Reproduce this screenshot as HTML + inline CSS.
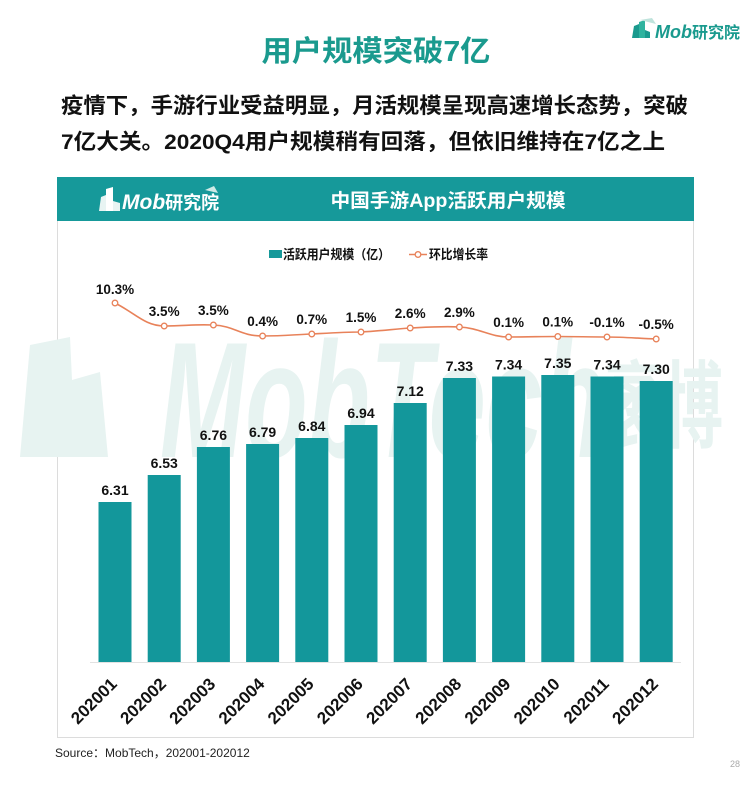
<!DOCTYPE html>
<html><head><meta charset="utf-8"><style>
html,body{margin:0;padding:0;background:#fff;}
svg{display:block;}
text{font-family:"Liberation Sans","Noto Sans CJK SC",sans-serif;}
</style></head><body>
<svg width="750" height="789" viewBox="0 0 750 789" xmlns="http://www.w3.org/2000/svg">
<rect width="750" height="789" fill="#fff"/>

<!-- top-right logo -->
<g>
  <polygon points="632,38 634,26 639,24 639,38" fill="#1a9a8e"/>
  <polygon points="639,38 639,22 645,20 645,38" fill="#2fb39f"/>
  <polygon points="645,38 645,30 650,32 650,38" fill="#1a9a8e"/>
  <polygon points="640,20 652,18 656,24" fill="#bfe3dc"/>
  <text x="655" y="38" font-size="18" font-weight="700" fill="#1a9a8e"><tspan font-style="italic">Mob</tspan><tspan font-size="16">研究院</tspan></text>
</g>

<!-- Title -->
<text x="376" y="61" text-anchor="middle" font-size="29" font-weight="700" fill="#1a9a8e" textLength="229" lengthAdjust="spacingAndGlyphs">用户规模突破7亿</text>

<!-- subtitle -->
<text x="61" y="113" font-size="21.5" font-weight="700" fill="#111" textLength="627" lengthAdjust="spacingAndGlyphs">疫情下，手游行业受益明显，月活规模呈现高速增长态势，突破</text>
<text x="61" y="149" font-size="21.5" font-weight="700" fill="#111" textLength="604" lengthAdjust="spacingAndGlyphs">7亿大关。2020Q4用户规模稍有回落，但依旧维持在7亿之上</text>

<!-- chart frame -->
<rect x="57.5" y="177.5" width="636" height="560" fill="#fff" stroke="#dcdcdc" stroke-width="1"/>
<rect x="57" y="177" width="637" height="44" fill="#16999a"/>

<!-- header logo -->
<g>
  <polygon points="99,211 101,197 106,195 106,211" fill="#e8f4f3"/>
  <polygon points="106,211 106,189 113,187 113,211" fill="#ffffff"/>
  <polygon points="113,211 113,201 120,203 120,211" fill="#e8f4f3"/>
  <polygon points="205,190 214,186 218,193" fill="#cfeae6"/>
  <text x="122" y="209" font-size="21" font-weight="700" fill="#fff"><tspan font-style="italic">Mob</tspan><tspan font-size="18">研究院</tspan></text>
</g>
<text x="448" y="207" text-anchor="middle" font-size="19" font-weight="700" fill="#fff" textLength="235" lengthAdjust="spacingAndGlyphs">中国手游App活跃用户规模</text>

<!-- watermark -->
<g fill="#e7f3f1">
  <polygon points="20,457 30,345 70,337 72,380 100,372 108,457"/>
  <text x="160" y="457" font-size="165" font-style="italic" font-weight="700" textLength="445" lengthAdjust="spacingAndGlyphs">MobTech</text>
  <text x="605" y="440" font-size="95" font-weight="700" textLength="118" lengthAdjust="spacingAndGlyphs">袤博</text>
</g>

<!-- legend -->
<rect x="269" y="250" width="13" height="8" fill="#16999a"/>
<text x="283" y="259" font-size="13" font-weight="700" fill="#111" textLength="107" lengthAdjust="spacingAndGlyphs">活跃用户规模（亿）</text>
<line x1="409" y1="254.5" x2="427" y2="254.5" stroke="#e8825a" stroke-width="1.5"/>
<circle cx="418" cy="254.5" r="2.8" fill="#fff" stroke="#e8825a" stroke-width="1.3"/>
<text x="429" y="259" font-size="13" font-weight="700" fill="#111" textLength="59" lengthAdjust="spacingAndGlyphs">环比增长率</text>

<!-- axis -->
<line x1="90" y1="662.5" x2="681" y2="662.5" stroke="#e2e2e2" stroke-width="1"/>

<!-- bars -->
<g fill="#13979b">
  <rect x="98.5" y="502" width="33" height="160"/>
  <rect x="147.7" y="475" width="33" height="187"/>
  <rect x="196.9" y="447" width="33" height="215"/>
  <rect x="246.1" y="444" width="33" height="218"/>
  <rect x="295.3" y="438" width="33" height="224"/>
  <rect x="344.5" y="425" width="33" height="237"/>
  <rect x="393.7" y="403" width="33" height="259"/>
  <rect x="442.9" y="378" width="33" height="284"/>
  <rect x="492.1" y="376.5" width="33" height="285.5"/>
  <rect x="541.3" y="375" width="33" height="287"/>
  <rect x="590.5" y="376.5" width="33" height="285.5"/>
  <rect x="639.7" y="381" width="33" height="281"/>
</g>

<!-- bar value labels -->
<g font-size="14" font-weight="700" fill="#111" text-anchor="middle">
  <text x="115" y="495">6.31</text>
  <text x="164.2" y="468">6.53</text>
  <text x="213.4" y="440">6.76</text>
  <text x="262.6" y="437">6.79</text>
  <text x="311.8" y="431">6.84</text>
  <text x="361" y="418">6.94</text>
  <text x="410.2" y="396">7.12</text>
  <text x="459.4" y="371">7.33</text>
  <text x="508.6" y="369.5">7.34</text>
  <text x="557.8" y="368">7.35</text>
  <text x="607" y="369.5">7.34</text>
  <text x="656.2" y="374">7.30</text>
</g>

<!-- line -->
<path d="M115,303 C135,313 145,326 164.2,326 C185,326 195,324 213.4,325 C235,326 240,336 262.6,336 C285,336 295,334.5 311.8,334 C330,333 345,332 361,332 C380,331 395,329 410.2,328 C430,327 445,326 459.4,327 C480,328 490,337 508.6,337 C530,337 540,336.5 557.8,336.5 C575,336.5 590,337 607,337 C625,337 640,338.5 656.2,339" fill="none" stroke="#e8825a" stroke-width="1.6"/>
<g fill="#fff" stroke="#e8825a" stroke-width="1.3">
  <circle cx="115" cy="303" r="2.8"/>
  <circle cx="164.2" cy="326" r="2.8"/>
  <circle cx="213.4" cy="325" r="2.8"/>
  <circle cx="262.6" cy="336" r="2.8"/>
  <circle cx="311.8" cy="334" r="2.8"/>
  <circle cx="361" cy="332" r="2.8"/>
  <circle cx="410.2" cy="328" r="2.8"/>
  <circle cx="459.4" cy="327" r="2.8"/>
  <circle cx="508.6" cy="337" r="2.8"/>
  <circle cx="557.8" cy="336.5" r="2.8"/>
  <circle cx="607" cy="337" r="2.8"/>
  <circle cx="656.2" cy="339" r="2.8"/>
</g>
<g font-size="13.5" font-weight="700" fill="#111" text-anchor="middle">
  <text x="115" y="294">10.3%</text>
  <text x="164.2" y="316">3.5%</text>
  <text x="213.4" y="315">3.5%</text>
  <text x="262.6" y="326">0.4%</text>
  <text x="311.8" y="324">0.7%</text>
  <text x="361" y="322">1.5%</text>
  <text x="410.2" y="318">2.6%</text>
  <text x="459.4" y="317">2.9%</text>
  <text x="508.6" y="327">0.1%</text>
  <text x="557.8" y="326.5">0.1%</text>
  <text x="607" y="327">-0.1%</text>
  <text x="656.2" y="329">-0.5%</text>
</g>

<!-- x labels -->
<g font-size="17" font-weight="700" fill="#111" text-anchor="end">
  <text transform="translate(118,685) rotate(-45)">202001</text>
  <text transform="translate(167.2,685) rotate(-45)">202002</text>
  <text transform="translate(216.4,685) rotate(-45)">202003</text>
  <text transform="translate(265.6,685) rotate(-45)">202004</text>
  <text transform="translate(314.8,685) rotate(-45)">202005</text>
  <text transform="translate(364,685) rotate(-45)">202006</text>
  <text transform="translate(413.2,685) rotate(-45)">202007</text>
  <text transform="translate(462.4,685) rotate(-45)">202008</text>
  <text transform="translate(511.6,685) rotate(-45)">202009</text>
  <text transform="translate(560.8,685) rotate(-45)">202010</text>
  <text transform="translate(610,685) rotate(-45)">202011</text>
  <text transform="translate(659.2,685) rotate(-45)">202012</text>
</g>

<!-- source -->
<text x="55" y="757" font-size="12" fill="#222">Source：MobTech，202001-202012</text>
<text x="735" y="767" font-size="9" fill="#aaa" text-anchor="middle">28</text>
</svg>
</body></html>
